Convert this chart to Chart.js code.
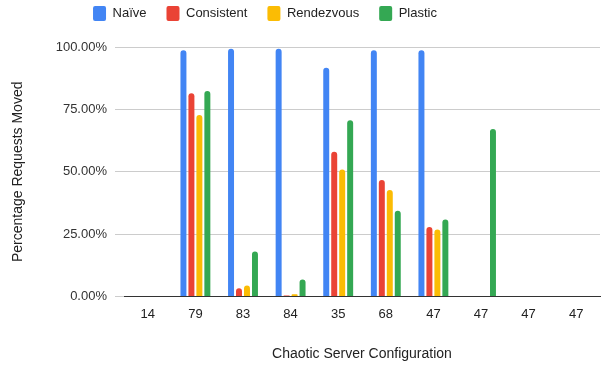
<!DOCTYPE html>
<html>
<head>
<meta charset="utf-8">
<script src="https://cdn.jsdelivr.net/npm/chart.js@4"></script>
<style>
  html, body { margin: 0; padding: 0; background: #fff; }
  #wrap { width: 603px; height: 366px; }
</style>
</head>
<body>
<div id="wrap"><canvas id="movedChart"></canvas></div>
<script>
// server configs on the x axis (labels repeat in the original)
const configs = ['14', '79', '83', '84', '35', '68', '47', '47', '47', '47'];

// percentage of requests moved, per strategy
const naive      = [null, 98.7, 99.3, 99.3, 91.7, 98.7, 98.7, null, null, null];
const consistent = [null, 81.5,  3.3,  0.4, 58.0, 46.7, 27.9, null, null, null];
const rendezvous = [null, 72.8,  4.4,  0.9, 50.9, 42.7, 26.9, null, null, null];
const plastic    = [null, 82.4, 18.1,  6.9, 70.7, 34.4, 30.9, 67.1, null, null];

const yTicks = [0, 25, 50, 75, 100];

Chart.defaults.font.family = 'Arial, "Liberation Sans", sans-serif';
Chart.defaults.color = '#333';

function series(label, values, color){
    return {
        label: label,
        data: values,
        backgroundColor: color,
        borderRadius: 3,
        borderSkipped: 'start',
        categoryPercentage: 0.67,
        barPercentage: 0.75
    };
}

// legend in the original sits left of centre and close to the top edge
const LegendShift = {
    id: 'legendShift',
    afterLayout(chart){
        const lg = chart.legend;
        lg.left -= 35;
        lg.right -= 35;
        lg.top -= 16;
        lg.bottom -= 16;
    }
};

const data = {
    labels: configs,
    datasets: [
        series('Naïve', naive, '#4285F4'),
        series('Consistent', consistent, '#EA4335'),
        series('Rendezvous', rendezvous, '#FBBC04'),
        series('Plastic', plastic, '#34A853')
    ]
};

const options = {
    responsive: true,
    maintainAspectRatio: false,
    animation: false,
    layout: {
        padding: {top: 2, right: 3, left: 0, bottom: 3}
    },
    plugins: {
        legend: {
            display: true,
            position: 'top',
            labels: {
                boxWidth: 13,
                boxHeight: 15,
                padding: 20,
                useBorderRadius: true,
                borderRadius: 2,
                color: '#222',
                font: {size: 13}
            }
        },
        tooltip: {enabled: false}
    },
    scales: {
        x: {
            grid: {display: false},
            border: {display: true, color: '#333', width: 1},
            ticks: {
                color: '#222',
                font: {size: 13},
                padding: 2,
                maxRotation: 0,
                autoSkip: false
            },
            title: {
                display: true,
                text: 'Chaotic Server Configuration',
                color: '#222',
                font: {size: 14},
                padding: {top: 22, bottom: 0}
            }
        },
        y: {
            min: 0,
            max: 100,
            afterBuildTicks(scale){
                scale.ticks = yTicks.map(v => ({value: v}));
            },
            afterFit(scale){
                scale.width = 124;
            },
            grid: {
                color: '#ccc',
                drawTicks: true,
                tickLength: 9
            },
            border: {display: false},
            ticks: {
                color: '#333',
                font: {size: 13},
                padding: 8,
                callback: v => v.toFixed(2) + '%'
            },
            title: {
                display: true,
                text: 'Percentage Requests Moved',
                color: '#222',
                font: {size: 14},
                padding: {top: 10, bottom: 0}
            }
        }
    }
};

const movedChart = new Chart(document.getElementById('movedChart'), {
    type: 'bar',
    data: data,
    options: options,
    plugins: [LegendShift]
});
</script>
</body>
</html>
